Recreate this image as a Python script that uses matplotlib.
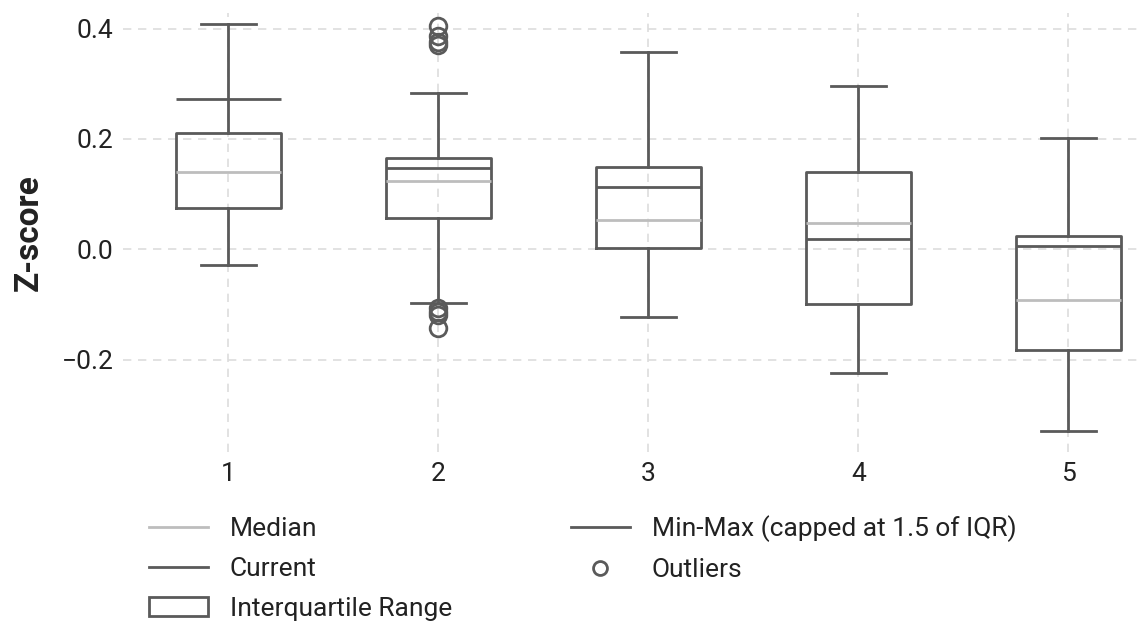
import matplotlib.pyplot as plt
from matplotlib.lines import Line2D
from matplotlib.patches import Patch

plt.rcParams['font.family'] = ['Roboto', 'DejaVu Sans']

groups = ['1', '2', '3', '4', '5']
q1      = [0.074, 0.057, 0.003, -0.099, -0.183]
q3      = [0.210, 0.166, 0.149, 0.140, 0.024]
median  = [0.140, 0.123, 0.053, 0.048, -0.092]
current = [0.273, 0.147, 0.112, 0.018, 0.006]
wlo     = [-0.028, -0.097, -0.123, -0.225, -0.329]
whi     = [0.409, 0.283, 0.358, 0.295, 0.202]
outliers = [
    [],
    [0.404, 0.387, 0.376, 0.371, -0.107, -0.113, -0.119, -0.143],
    [],
    [],
    [],
]

dark = '#5a5a5a'
light = '#bdbdbd'

stats = []
for i, g in enumerate(groups):
    stats.append(dict(label=g, q1=q1[i], q3=q3[i], med=median[i],
                      whislo=wlo[i], whishi=whi[i], fliers=outliers[i]))

fig = plt.figure(figsize=(11.42, 6.23), dpi=100)
ax = fig.add_axes([0.108, 0.274, 0.892, 0.705])

pos = list(range(1, len(groups) + 1))
ax.bxp(stats, positions=pos, widths=0.5, showfliers=True,
       boxprops=dict(color=dark, linewidth=2),
       whiskerprops=dict(color=dark, linewidth=2),
       capprops=dict(color=dark, linewidth=2),
       medianprops=dict(color=light, linewidth=2),
       flierprops=dict(marker='o', markerfacecolor='none', markeredgecolor=dark,
                       markersize=12, markeredgewidth=2),
       capwidths=0.26, zorder=3)

# current value line across the box
ax.hlines(current, [p - 0.25 for p in pos], [p + 0.25 for p in pos],
          colors=dark, linewidth=2, zorder=4)

ax.set_xlim(0.5, 5.35)
ax.set_ylim(-0.368, 0.428)
ax.set_yticks([-0.2, 0.0, 0.2, 0.4])
ax.set_xticks(pos)
ax.set_xticklabels(groups)
ax.tick_params(length=0, labelsize=19, colors='#222222', pad=7)
ax.grid(True, linestyle=(0, (5, 4)), color='#dddddd', linewidth=1.2, zorder=0)
ax.set_axisbelow(True)
for s in ax.spines.values():
    s.set_visible(False)
ax.set_ylabel('Z-score', fontsize=24, fontweight='bold', labelpad=12, color='#222222')

handles = [
    Line2D([], [], color=light, linewidth=2),
    Line2D([], [], color=dark, linewidth=2),
    Patch(facecolor='white', edgecolor=dark, linewidth=2),
    Line2D([], [], color=dark, linewidth=2),
    Line2D([], [], linestyle='none', marker='o', markerfacecolor='none',
           markeredgecolor=dark, markersize=10, markeredgewidth=2),
]
labels = ['Median', 'Current', 'Interquartile Range',
          'Min-Max (capped at 1.5 of IQR)', 'Outliers']
leg = fig.legend(handles, labels, ncol=2, loc='upper left', bbox_to_anchor=(0.119, 0.194),
                 frameon=False, fontsize=19, handlelength=2.23, handletextpad=0.83,
                 columnspacing=4.5, labelspacing=0.6, borderpad=0)
for t in leg.get_texts():
    t.set_color('#222222')

fig.savefig('out.png', dpi=100)
